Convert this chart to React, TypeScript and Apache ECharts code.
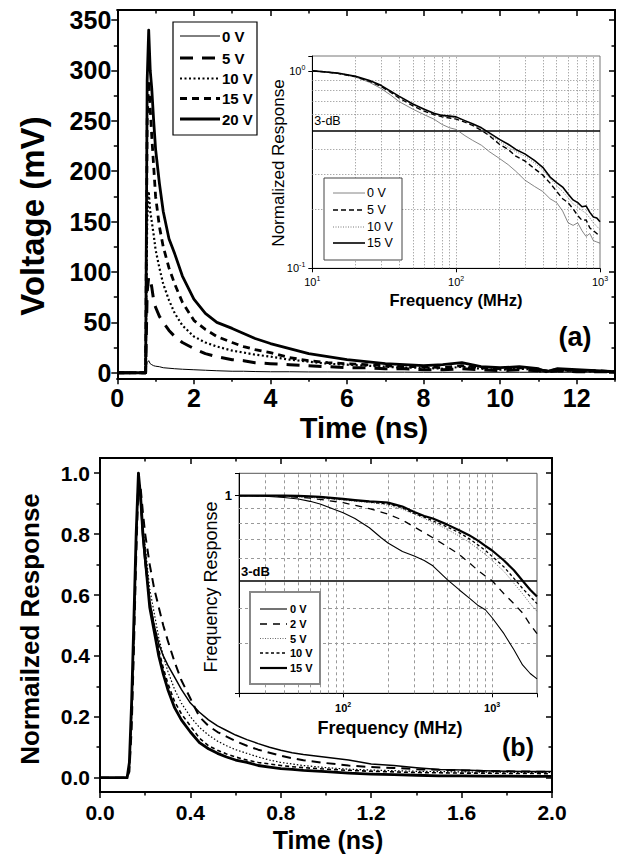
import React, { useEffect, useRef } from 'react';
import * as echarts from 'echarts';

const FONT = '"Liberation Sans", Arial, Helvetica, sans-serif';

// ---------- Panel (a): transient response ----------
const timeA = [0, 0.5, 0.74, 0.78, 0.82, 0.86, 0.9, 0.95, 1.0, 1.1, 1.2, 1.35, 1.5, 1.7, 2.0, 2.3, 2.6, 3.0, 3.3, 3.6, 4.0, 4.5, 5.0, 5.5, 6.0, 6.5, 7.0, 7.5, 8.0, 8.5, 9.0, 9.5, 10.0, 10.5, 11.0, 11.2, 11.5, 12.0, 12.5, 13.0];
const v0A = [0, 0, 0, 10, 12, 9, 8, 7, 6.5, 6, 5, 4.5, 4, 3.5, 3, 2.5, 2, 1.5, 1.5, 1.2, 1, 1, 0.8, 0.8, 0.7, 0.7, 0.6, 0.6, 0.5, 0.5, 0.5, 0.5, 0.5, 0.5, 0.5, 0.5, 0.5, 0.5, 0.5, 0.5];
const v5A = [0, 0, 0, 80, 95, 92, 85, 72, 65, 56, 50, 42, 36, 30, 24, 19, 16, 13, 12, 10, 9, 8, 7, 6, 5, 5, 4, 4, 3, 3, 4, 3, 2, 3, 2, 1, 2, 1, 1, 1];
const v10A = [0, 0, 0, 150, 180, 160, 150, 137, 122, 104, 88, 72, 59, 47, 36, 30, 26, 22, 20, 18, 16, 13, 11, 9, 8, 7, 6, 5, 5, 4, 6, 4, 3, 4, 3, 2, 2, 2, 1, 1];
const v15A = [0, 0, 0, 250, 290, 262, 235, 205, 175, 145, 125, 104, 88, 70, 52, 43, 36, 30, 26, 23, 20, 15, 12, 10, 9, 8, 7, 6, 6, 5, 7, 5, 4, 5, 3, 2, 3, 2, 2, 1];
const v20A = [0, 0, 0, 290, 340, 300, 282, 250, 222, 188, 160, 133, 118, 96, 73, 59, 50, 44, 39, 34, 29, 24, 19, 16, 13, 11, 9, 8, 7, 8, 10, 6, 5, 6, 4, 1, 4, 3, 2, 1];
const namesA = ['0 V', '5 V', '10 V', '15 V', '20 V'];
const xMajorA = [0, 2, 4, 6, 8, 10, 12];
const xMinorA = [1, 3, 5, 7, 9, 11, 13];
const yMajorA = [0, 50, 100, 150, 200, 250, 300, 350];
const yMinorA = [25, 75, 125, 175, 225, 275, 325];

// Inset (a): frequency response
const freqA = [10, 12, 15, 20, 25, 30, 35, 40, 50, 60, 70, 80, 90, 100, 115, 130, 150, 170, 200, 230, 260, 300, 350, 400, 450, 500, 550, 600, 650, 700, 750, 800, 850, 900, 950, 1000];
const r0A = [1.0, 0.99, 0.97, 0.93, 0.875, 0.815, 0.755, 0.70, 0.64, 0.60, 0.57, 0.535, 0.515, 0.505, 0.47, 0.445, 0.42, 0.39, 0.36, 0.335, 0.31, 0.28, 0.26, 0.245, 0.225, 0.215, 0.195, 0.17, 0.165, 0.17, 0.155, 0.145, 0.15, 0.138, 0.136, 0.134];
const r5A = [1.0, 0.99, 0.972, 0.935, 0.885, 0.835, 0.78, 0.73, 0.665, 0.625, 0.6, 0.585, 0.577, 0.57, 0.55, 0.53, 0.50, 0.47, 0.425, 0.40, 0.37, 0.35, 0.32, 0.297, 0.27, 0.245, 0.225, 0.215, 0.20, 0.185, 0.175, 0.176, 0.16, 0.155, 0.15, 0.147];
const r10A = [1.0, 0.99, 0.973, 0.937, 0.89, 0.84, 0.785, 0.74, 0.675, 0.632, 0.605, 0.59, 0.583, 0.578, 0.555, 0.535, 0.505, 0.475, 0.44, 0.41, 0.39, 0.37, 0.342, 0.315, 0.285, 0.262, 0.245, 0.228, 0.212, 0.205, 0.196, 0.19, 0.18, 0.17, 0.163, 0.157];
const r15A = [1.0, 0.99, 0.975, 0.94, 0.895, 0.845, 0.79, 0.745, 0.68, 0.64, 0.61, 0.595, 0.59, 0.585, 0.56, 0.54, 0.515, 0.485, 0.45, 0.425, 0.40, 0.38, 0.352, 0.325, 0.29, 0.272, 0.258, 0.238, 0.222, 0.215, 0.205, 0.207, 0.192, 0.182, 0.18, 0.172];
const namesAi = ['0 V', '5 V', '10 V', '15 V'];
const gridFreqA = [20, 30, 40, 50, 60, 70, 80, 90, 100, 200, 300, 400, 500, 600, 700, 800, 900];
const gridRespA = [0.2, 0.3, 0.4, 0.6, 0.7, 0.8, 0.9];

// ---------- Panel (b): normalized transient response ----------
const timeB = [0, 0.05, 0.1, 0.12, 0.13, 0.14, 0.15, 0.16, 0.17, 0.18, 0.19, 0.2, 0.22, 0.24, 0.26, 0.28, 0.3, 0.33, 0.36, 0.4, 0.44, 0.48, 0.52, 0.56, 0.6, 0.65, 0.7, 0.75, 0.8, 0.85, 0.9, 1.0, 1.1, 1.2, 1.3, 1.4, 1.5, 1.6, 1.7, 1.8, 1.9, 2.0];
const n0B = [0, 0, 0, 0, 0.04, 0.22, 0.48, 0.78, 1.0, 0.90, 0.78, 0.70, 0.58, 0.50, 0.44, 0.40, 0.37, 0.33, 0.29, 0.245, 0.215, 0.19, 0.17, 0.155, 0.14, 0.125, 0.112, 0.10, 0.09, 0.082, 0.076, 0.067, 0.058, 0.045, 0.04, 0.033, 0.027, 0.025, 0.023, 0.021, 0.02, 0.02];
const n2B = [0, 0, 0, 0, 0.02, 0.16, 0.42, 0.72, 0.97, 0.95, 0.87, 0.80, 0.70, 0.62, 0.56, 0.50, 0.45, 0.38, 0.32, 0.26, 0.20, 0.17, 0.15, 0.135, 0.12, 0.105, 0.092, 0.082, 0.072, 0.064, 0.057, 0.048, 0.04, 0.035, 0.032, 0.028, 0.026, 0.024, 0.022, 0.021, 0.02, 0.019];
const n5B = [0, 0, 0, 0, 0.04, 0.22, 0.48, 0.78, 1.0, 0.91, 0.82, 0.76, 0.62, 0.54, 0.46, 0.40, 0.35, 0.29, 0.245, 0.20, 0.165, 0.14, 0.12, 0.105, 0.092, 0.08, 0.068, 0.058, 0.05, 0.045, 0.04, 0.033, 0.028, 0.025, 0.023, 0.021, 0.02, 0.019, 0.018, 0.018, 0.017, 0.017];
const n10B = [0, 0, 0, 0, 0.04, 0.22, 0.48, 0.78, 1.0, 0.91, 0.80, 0.74, 0.58, 0.50, 0.42, 0.36, 0.31, 0.25, 0.21, 0.17, 0.13, 0.105, 0.09, 0.078, 0.068, 0.058, 0.05, 0.045, 0.04, 0.036, 0.033, 0.028, 0.024, 0.021, 0.019, 0.017, 0.016, 0.015, 0.015, 0.014, 0.014, 0.013];
const n15B = [0, 0, 0, 0, 0.05, 0.25, 0.52, 0.8, 1.0, 0.92, 0.80, 0.72, 0.56, 0.48, 0.40, 0.34, 0.29, 0.23, 0.19, 0.15, 0.115, 0.095, 0.08, 0.068, 0.058, 0.05, 0.04, 0.035, 0.03, 0.027, 0.024, 0.02, 0.015, 0.012, 0.01, 0.008, 0.006, 0.006, 0.005, 0.005, 0.004, 0.004];
const namesB = ['0 V', '2 V', '5 V', '10 V', '15 V'];
const xMajorB = [0, 0.4, 0.8, 1.2, 1.6, 2.0];
const xMinorB = [0.2, 0.6, 1.0, 1.4, 1.8];
const yMajorB = [0, 0.2, 0.4, 0.6, 0.8, 1.0];
const yMinorB = [0.1, 0.3, 0.5, 0.7, 0.9];

// Inset (b): frequency response
const freqB = [20, 25, 30, 40, 50, 60, 70, 80, 100, 120, 150, 180, 200, 250, 300, 350, 400, 500, 600, 700, 800, 900, 1000, 1200, 1400, 1600, 1800, 2000];
const r0B = [1, 0.998, 0.995, 0.985, 0.973, 0.955, 0.935, 0.91, 0.87, 0.83, 0.77, 0.71, 0.68, 0.635, 0.612, 0.59, 0.565, 0.505, 0.465, 0.435, 0.41, 0.395, 0.37, 0.325, 0.285, 0.252, 0.235, 0.225];
const r2B = [1, 1, 0.998, 0.993, 0.987, 0.98, 0.97, 0.96, 0.945, 0.925, 0.9, 0.875, 0.86, 0.82, 0.775, 0.74, 0.71, 0.66, 0.62, 0.58, 0.545, 0.52, 0.5, 0.45, 0.415, 0.385, 0.35, 0.325];
const r5B = [1, 1, 0.998, 0.995, 0.99, 0.985, 0.98, 0.975, 0.965, 0.955, 0.945, 0.935, 0.925, 0.895, 0.86, 0.83, 0.805, 0.76, 0.72, 0.685, 0.65, 0.62, 0.59, 0.54, 0.49, 0.45, 0.415, 0.39];
const r10B = [1, 1, 1, 0.998, 0.995, 0.99, 0.985, 0.98, 0.97, 0.96, 0.95, 0.94, 0.935, 0.905, 0.865, 0.84, 0.815, 0.775, 0.74, 0.705, 0.67, 0.64, 0.61, 0.56, 0.51, 0.47, 0.44, 0.415];
const r15B = [1, 1, 1, 1, 0.998, 0.995, 0.99, 0.985, 0.975, 0.965, 0.955, 0.95, 0.945, 0.915, 0.875, 0.848, 0.83, 0.79, 0.755, 0.725, 0.695, 0.665, 0.64, 0.59, 0.545, 0.5, 0.465, 0.44];
const gridFreqB = [30, 40, 50, 60, 70, 80, 90, 100, 200, 300, 400, 500, 600, 700, 800, 900, 1000];
const gridRespB = [0.3, 0.4, 0.6, 0.7, 0.8, 0.9];
const threeDb = 0.5;

// ---------- styles ----------
type LS = { color: string; width: number; dash: number[] | null };
const stA: LS[] = [
  { color: '#000', width: 1, dash: null },
  { color: '#000', width: 3, dash: [13, 9] },
  { color: '#000', width: 2.2, dash: [2, 2.5] },
  { color: '#000', width: 2.8, dash: [7, 5] },
  { color: '#000', width: 2.8, dash: null },
];
const stAi: LS[] = [
  { color: '#666', width: 0.8, dash: null },
  { color: '#000', width: 1.4, dash: [5, 3] },
  { color: '#555', width: 0.8, dash: [1, 1.5] },
  { color: '#000', width: 1.6, dash: null },
];
const stB: LS[] = [
  { color: '#000', width: 1.5, dash: null },
  { color: '#000', width: 2, dash: [9, 6] },
  { color: '#000', width: 1.2, dash: [1.5, 2] },
  { color: '#000', width: 1.6, dash: [4, 3] },
  { color: '#000', width: 2.8, dash: null },
];
const stBi: LS[] = [
  { color: '#000', width: 1.1, dash: null },
  { color: '#000', width: 1.3, dash: [7, 6] },
  { color: '#444', width: 0.8, dash: [1, 1.5] },
  { color: '#000', width: 1.3, dash: [3, 2.5] },
  { color: '#000', width: 2.2, dash: null },
];

function vAxis(grid: number, pos: string, min: number, max: number, ticks: number[], len: number, inside: boolean, label?: any) {
  return {
    type: 'value', gridIndex: grid, position: pos, min, max,
    axisLine: { show: true, onZero: false, lineStyle: { color: '#000', width: 1.8 } },
    axisTick: { show: true, inside, length: len, customValues: ticks, lineStyle: { color: '#000', width: 1.5 } },
    axisLabel: label ? { show: true, ...label } : { show: false },
    splitLine: { show: false },
  };
}

function pow10Label(v: number) {
  const e = Math.log10(v);
  const r = Math.round(e);
  if (Math.abs(e - r) > 1e-6) return '';
  return `{b|10}{s|${r}}`;
}

function logAxis(grid: number, pos: string, min: number, max: number, label: any) {
  return {
    type: 'log', logBase: 10, gridIndex: grid, position: pos, min, max,
    axisLine: { show: true, onZero: false, lineStyle: { color: '#000', width: 1 } },
    axisTick: { show: true, inside: false, length: 4, lineStyle: { color: '#000', width: 1 } },
    axisLabel: label,
    splitLine: { show: false },
    z: 6,
  };
}

function lineSeries(name: string, xs: number[], ys: number[], xi: number, yi: number, st: LS, extra: any = {}) {
  return {
    type: 'line', name, xAxisIndex: xi, yAxisIndex: yi,
    data: xs.map((x, i) => [x, ys[i]]),
    symbol: 'none', showSymbol: false, silent: true,
    lineStyle: { color: st.color, width: st.width, type: st.dash ? st.dash : 'solid', cap: 'butt', join: 'round' },
    z: 8,
    ...extra,
  };
}

function gridMarks(freqs: number[], resps: number[], gridStyle: any, dbLabel: any) {
  return {
    silent: true, symbol: ['none', 'none'], animation: false, z: 7,
    label: { show: false },
    lineStyle: gridStyle,
    data: [
      ...freqs.map((f) => ({ xAxis: f })),
      ...resps.map((r) => ({ yAxis: r })),
      { yAxis: threeDb, lineStyle: { type: 'solid', color: '#000', width: 1.5 }, label: dbLabel },
    ],
  };
}

function txt(text: string, x: number, y: number, size: number, weight: string, rot = 0, align = 'center') {
  return {
    type: 'text', x, y, rotation: rot, z: 50,
    style: { text, fontSize: size, fontWeight: weight, fontFamily: FONT, fill: '#000', align, verticalAlign: 'middle' },
  };
}

function legendGraphic(names: string[], st: LS[], box: number[], rowsY: number[], x1: number, x2: number, tx: number, size: number, weight: string, boxStroke: string, boxW: number) {
  const els: any[] = [
    { type: 'rect', shape: { x: box[0], y: box[1], width: box[2], height: box[3] }, style: { fill: '#fff', stroke: boxStroke, lineWidth: boxW }, z: 40 },
  ];
  names.forEach((n, i) => {
    els.push({
      type: 'line', z: 41,
      shape: { x1, y1: rowsY[i], x2, y2: rowsY[i] },
      style: { stroke: st[i].color, lineWidth: st[i].width, lineDash: st[i].dash || null },
    });
    els.push(txt(n, tx, rowsY[i], size, weight, 0, 'left'));
  });
  return els;
}

function buildOption() {
  const mainLabelA = { fontSize: 25, fontWeight: 'bold', fontFamily: FONT, color: '#000' };
  const mainLabelB = { fontSize: 21, fontWeight: 'bold', fontFamily: FONT, color: '#000', formatter: (v: number) => v.toFixed(1) };
  const richA = {
    b: { fontSize: 11, fontFamily: FONT, color: '#000', lineHeight: 14 },
    s: { fontSize: 7, fontFamily: FONT, color: '#000', verticalAlign: 'top', lineHeight: 14 },
  };
  const richB = {
    b: { fontSize: 11, fontWeight: 'bold', fontFamily: FONT, color: '#000', lineHeight: 14 },
    s: { fontSize: 7, fontWeight: 'bold', fontFamily: FONT, color: '#000', verticalAlign: 'top', lineHeight: 14 },
  };

  const grids = [
    { left: 117.3, top: 10, width: 497.7, height: 368.3 },
    { left: 312.3, top: 56, width: 287.7, height: 212.3, show: true, backgroundColor: '#fff', borderColor: '#777', borderWidth: 1 },
    { left: 100, top: 458, width: 452, height: 334 },
    { left: 239, top: 473.3, width: 298, height: 220, show: true, backgroundColor: '#fff', borderColor: '#555', borderWidth: 1 },
  ];

  const xAxis = [
    vAxis(0, 'bottom', 0, 13, xMajorA, 6, false, { ...mainLabelA, customValues: xMajorA, margin: 7 }),
    vAxis(0, 'bottom', 0, 13, xMinorA, 3.5, false),
    vAxis(0, 'top', 0, 13, xMajorA, 6, true),
    vAxis(0, 'top', 0, 13, xMinorA, 3.5, true),
    vAxis(2, 'bottom', 0, 2, xMajorB, 6, false, { ...mainLabelB, customValues: xMajorB, margin: 10 }),
    vAxis(2, 'bottom', 0, 2, xMinorB, 3.5, false),
    vAxis(2, 'top', 0, 2, xMajorB, 6, true),
    vAxis(2, 'top', 0, 2, xMinorB, 3.5, true),
    logAxis(1, 'bottom', 10, 1000, { formatter: pow10Label, rich: richA, margin: 7 }),
    logAxis(3, 'bottom', 20, 2000, { formatter: pow10Label, rich: richB, margin: 8 }),
  ];
  const yAxis = [
    vAxis(0, 'left', -5.5, 360, yMajorA, 6, false, { ...mainLabelA, customValues: yMajorA, margin: 6 }),
    vAxis(0, 'left', -5.5, 360, yMinorA, 3.5, false),
    vAxis(0, 'right', -5.5, 360, yMajorA, 6, true),
    vAxis(0, 'right', -5.5, 360, yMinorA, 3.5, true),
    vAxis(2, 'left', -0.047, 1.05, yMajorB, 6, false, { ...mainLabelB, customValues: yMajorB, margin: 10 }),
    vAxis(2, 'left', -0.047, 1.05, yMinorB, 3.5, false),
    vAxis(2, 'right', -0.047, 1.05, yMajorB, 6, true),
    vAxis(2, 'right', -0.047, 1.05, yMinorB, 3.5, true),
    logAxis(1, 'left', 0.1, 1.19, { formatter: pow10Label, rich: richA, margin: 7 }),
    logAxis(3, 'left', 0.2, 1.2, {
      formatter: (v: number) => (Math.abs(v - 1) < 1e-9 ? '1' : ''),
      fontSize: 13, fontWeight: 'bold', fontFamily: FONT, color: '#000', margin: 7,
    }),
  ];

  const seriesA = [v0A, v5A, v10A, v15A, v20A].map((ys, i) => lineSeries(namesA[i], timeA, ys, 0, 0, stA[i]));
  const seriesAi = [r0A, r5A, r10A, r15A].map((ys, i) =>
    lineSeries(namesAi[i], freqA, ys, 8, 8, stAi[i], i === 0 ? {
      markLine: gridMarks(gridFreqA, gridRespA, { type: [1, 2], color: '#888', width: 1 }, {
        show: true, formatter: '3-dB', position: 'insideStartTop', distance: [2, 3],
        fontSize: 12.5, fontFamily: FONT, color: '#000',
      }),
    } : {}));
  const seriesB = [n0B, n2B, n5B, n10B, n15B].map((ys, i) => lineSeries(namesB[i], timeB, ys, 4, 4, stB[i]));
  const seriesBi = [r0B, r2B, r5B, r10B, r15B].map((ys, i) =>
    lineSeries(namesB[i], freqB, ys, 9, 9, stBi[i], i === 0 ? {
      markLine: gridMarks(gridFreqB, gridRespB, { type: [3, 3], color: '#999', width: 1 }, {
        show: true, formatter: '3-dB', position: 'insideStartTop', distance: [2, 3],
        fontSize: 13, fontWeight: 'bold', fontFamily: FONT, color: '#000',
      }),
    } : {}));

  const graphic = [
    txt('Voltage (mV)', 32, 216, 33, 'bold', Math.PI / 2),
    txt('Time (ns)', 364, 428, 29, 'bold'),
    txt('Normailzed Response', 30, 629, 26, 'bold', Math.PI / 2),
    txt('Time (ns)', 328, 840, 25, 'bold'),
    txt('Normalized Response', 278, 163, 17, 'normal', Math.PI / 2),
    txt('Frequency (MHz)', 456, 300, 16.5, 'bold'),
    txt('Frequency Response', 211, 587, 18, 'normal', Math.PI / 2),
    txt('Frequency (MHz)', 390, 728, 18, 'bold'),
    txt('(a)', 575, 337, 27, 'bold'),
    txt('(b)', 518, 747, 25, 'bold'),
    ...legendGraphic(namesA, stA, [173, 22, 84, 113], [36, 58, 78.5, 98.5, 119], 180, 220, 222, 15, 'bold', '#000', 1.2),
    ...legendGraphic(namesAi, stAi, [324, 178, 78, 82], [193, 210, 227, 243], 333, 365, 367, 12.5, 'normal', '#444', 1),
    ...legendGraphic(namesB, stBi, [250, 592, 70, 92], [609, 624, 638.5, 653, 668], 260, 287, 290, 11, 'bold', '#888', 2),
  ];

  return {
    animation: false,
    backgroundColor: '#fff',
    grid: grids,
    xAxis,
    yAxis,
    series: [...seriesA, ...seriesAi, ...seriesB, ...seriesBi],
    graphic,
  };
}

export default function App() {
  const ref = useRef<HTMLDivElement>(null);
  useEffect(() => {
    const chart = echarts.init(ref.current as HTMLDivElement, null, { renderer: 'svg' });
    chart.setOption(buildOption() as any);
    return () => chart.dispose();
  }, []);
  return <div ref={ref} style={{ position: 'absolute', left: 0, top: 0, width: 621, height: 854, background: '#fff' }} />;
}
